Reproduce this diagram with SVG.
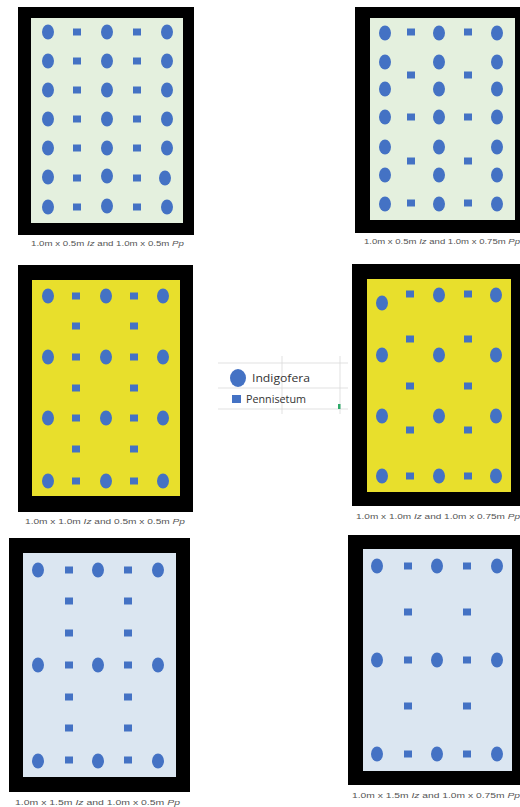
<svg xmlns="http://www.w3.org/2000/svg" xmlns:xlink="http://www.w3.org/1999/xlink" width="520" height="807" viewBox="0 0 520 807">
<style>
.frame{fill:#000}
.g{fill:#e4f0de}
.y{fill:#e8df2c}
.b{fill:#dbe6f1}
.p{fill:#4472c4}
.cap{font-family:"Liberation Sans",Arial,sans-serif;font-size:7.5px;fill:#555}
.cap tspan.i{font-style:italic}
.leg{font-family:"Open Sans","Liberation Sans",sans-serif;font-size:11px;fill:#333}
.grid{stroke:#d9d9d9;stroke-width:0.8;fill:none}
</style>
<defs>
<ellipse id="ci" cx="0" cy="0" rx="6" ry="7.5" class="p"/>
<rect id="sq" x="-4" y="-3.5" width="8" height="7" class="p"/>
</defs>
<rect width="520" height="807" fill="#fff"/>

<g id="panel1">
<rect class="frame" x="18" y="7" width="176" height="228"/>
<rect class="g" x="31" y="18" width="152" height="205"/>
<g>
<use href="#ci" x="48" y="32"/><use href="#sq" x="77" y="32"/><use href="#ci" x="107" y="32"/><use href="#sq" x="137" y="32"/><use href="#ci" x="167" y="32"/>
<use href="#ci" x="48" y="61"/><use href="#sq" x="77" y="61"/><use href="#ci" x="107" y="61"/><use href="#sq" x="137" y="61"/><use href="#ci" x="167" y="61"/>
<use href="#ci" x="48" y="90"/><use href="#sq" x="77" y="90"/><use href="#ci" x="107" y="90"/><use href="#sq" x="137" y="90"/><use href="#ci" x="167" y="90"/>
<use href="#ci" x="48" y="119"/><use href="#sq" x="77" y="119"/><use href="#ci" x="107" y="119"/><use href="#sq" x="137" y="119"/><use href="#ci" x="167" y="119"/>
<use href="#ci" x="48" y="148"/><use href="#sq" x="77" y="148"/><use href="#ci" x="107" y="148"/><use href="#sq" x="137" y="148"/><use href="#ci" x="167" y="148"/>
<use href="#ci" x="48" y="177"/><use href="#sq" x="77" y="178"/><use href="#ci" x="107" y="176"/><use href="#sq" x="137" y="178"/><use href="#ci" x="165" y="178"/>
<use href="#ci" x="48" y="207"/><use href="#sq" x="77" y="207"/><use href="#ci" x="107" y="206"/><use href="#sq" x="137" y="207"/><use href="#ci" x="167" y="207"/>
</g>
<text class="cap" x="31" y="246" textLength="153" lengthAdjust="spacingAndGlyphs">1.0m x 0.5m <tspan class="i">Iz</tspan> and 1.0m x 0.5m <tspan class="i">Pp</tspan></text>
</g>

<g id="panel2">
<rect class="frame" x="355" y="7" width="165" height="226"/>
<rect class="g" x="370" y="18" width="145" height="202"/>
<g>
<use href="#ci" x="385" y="33"/><use href="#sq" x="411" y="32"/><use href="#ci" x="439" y="33"/><use href="#sq" x="468" y="32"/><use href="#ci" x="497" y="33"/>
<use href="#ci" x="385" y="62"/><use href="#ci" x="439" y="62"/><use href="#ci" x="497" y="62"/>
<use href="#sq" x="411" y="75"/><use href="#sq" x="468" y="75"/>
<use href="#ci" x="385" y="89"/><use href="#ci" x="439" y="89"/><use href="#ci" x="497" y="89"/>
<use href="#ci" x="385" y="117"/><use href="#sq" x="411" y="117"/><use href="#ci" x="439" y="117"/><use href="#sq" x="468" y="117"/><use href="#ci" x="497" y="117"/>
<use href="#ci" x="385" y="147"/><use href="#ci" x="439" y="147"/><use href="#ci" x="497" y="147"/>
<use href="#sq" x="411" y="161"/><use href="#sq" x="468" y="161"/>
<use href="#ci" x="385" y="175"/><use href="#ci" x="439" y="175"/><use href="#ci" x="497" y="175"/>
<use href="#ci" x="385" y="204"/><use href="#sq" x="411" y="203"/><use href="#ci" x="439" y="204"/><use href="#sq" x="468" y="203"/><use href="#ci" x="497" y="204"/>
</g>
<text class="cap" x="364" y="244" textLength="156" lengthAdjust="spacingAndGlyphs">1.0m x 0.5m <tspan class="i">Iz</tspan> and 1.0m x 0.75m <tspan class="i">Pp</tspan></text>
</g>

<g id="panel3">
<rect class="frame" x="18" y="265" width="175" height="247"/>
<rect class="y" x="32" y="280" width="148" height="216"/>
<g>
<use href="#ci" x="48" y="296"/><use href="#sq" x="76" y="296"/><use href="#ci" x="106" y="296"/><use href="#sq" x="134" y="296"/><use href="#ci" x="163" y="296"/>
<use href="#sq" x="76" y="326"/><use href="#sq" x="134" y="326"/>
<use href="#ci" x="48" y="357"/><use href="#sq" x="76" y="357"/><use href="#ci" x="106" y="357"/><use href="#sq" x="134" y="357"/><use href="#ci" x="163" y="357"/>
<use href="#sq" x="76" y="388"/><use href="#sq" x="134" y="388"/>
<use href="#ci" x="48" y="418"/><use href="#sq" x="76" y="418"/><use href="#ci" x="106" y="418"/><use href="#sq" x="134" y="418"/><use href="#ci" x="163" y="418"/>
<use href="#sq" x="76" y="449"/><use href="#sq" x="134" y="449"/>
<use href="#ci" x="48" y="481"/><use href="#sq" x="76" y="481"/><use href="#ci" x="106" y="481"/><use href="#sq" x="134" y="481"/><use href="#ci" x="163" y="481"/>
</g>
<text class="cap" x="25" y="524" textLength="160" lengthAdjust="spacingAndGlyphs">1.0m x 1.0m <tspan class="i">Iz</tspan> and 0.5m x 0.5m <tspan class="i">Pp</tspan></text>
</g>

<g id="legend">
<g class="grid">
<line x1="218" y1="363" x2="348" y2="363"/>
<line x1="218" y1="388" x2="348" y2="388"/>
<line x1="218" y1="409" x2="348" y2="409"/>
<line x1="282" y1="356" x2="282" y2="414"/>
<line x1="340" y1="356" x2="340" y2="414"/>
</g>
<ellipse class="p" cx="238" cy="378" rx="8" ry="9"/>
<text class="leg" x="252" y="382" textLength="58" lengthAdjust="spacingAndGlyphs">Indigofera</text>
<rect class="p" x="232" y="395" width="9" height="8"/>
<text class="leg" x="246" y="403" textLength="60" lengthAdjust="spacingAndGlyphs">Pennisetum</text>
<rect x="338" y="404" width="2.5" height="5" fill="#2eaa6a"/>
</g>

<g id="panel4">
<rect class="frame" x="352" y="264" width="168" height="242"/>
<rect class="y" x="367" y="279" width="144" height="213"/>
<g>
<use href="#sq" x="410" y="294"/><use href="#ci" x="439" y="295"/><use href="#sq" x="468" y="294"/><use href="#ci" x="496" y="295"/>
<use href="#ci" x="382" y="303"/>
<use href="#sq" x="410" y="339"/><use href="#sq" x="468" y="339"/>
<use href="#ci" x="382" y="355"/><use href="#ci" x="439" y="355"/><use href="#ci" x="496" y="355"/>
<use href="#sq" x="410" y="386"/><use href="#sq" x="468" y="386"/>
<use href="#ci" x="382" y="416"/><use href="#ci" x="439" y="416"/><use href="#ci" x="496" y="416"/>
<use href="#sq" x="410" y="430"/><use href="#sq" x="468" y="430"/>
<use href="#ci" x="382" y="476"/><use href="#sq" x="410" y="476"/><use href="#ci" x="439" y="476"/><use href="#sq" x="468" y="476"/><use href="#ci" x="496" y="476"/>
</g>
<text class="cap" x="356" y="519" textLength="164" lengthAdjust="spacingAndGlyphs">1.0m x 1.0m <tspan class="i">Iz</tspan> and 1.0m x 0.75m <tspan class="i">Pp</tspan></text>
</g>

<g id="panel5">
<rect class="frame" x="9" y="538" width="181" height="254"/>
<rect class="b" x="23" y="553" width="153" height="224"/>
<g>
<use href="#ci" x="38" y="570"/><use href="#sq" x="69" y="570"/><use href="#ci" x="98" y="570"/><use href="#sq" x="128" y="570"/><use href="#ci" x="158" y="570"/>
<use href="#sq" x="69" y="601"/><use href="#sq" x="128" y="601"/>
<use href="#sq" x="69" y="633"/><use href="#sq" x="128" y="633"/>
<use href="#ci" x="38" y="665"/><use href="#sq" x="69" y="665"/><use href="#ci" x="98" y="665"/><use href="#sq" x="128" y="665"/><use href="#ci" x="158" y="665"/>
<use href="#sq" x="69" y="697"/><use href="#sq" x="128" y="697"/>
<use href="#sq" x="69" y="728"/><use href="#sq" x="128" y="728"/>
<use href="#ci" x="38" y="761"/><use href="#sq" x="69" y="760"/><use href="#ci" x="98" y="761"/><use href="#sq" x="128" y="760"/><use href="#ci" x="158" y="761"/>
</g>
<text class="cap" x="15" y="805" textLength="165" lengthAdjust="spacingAndGlyphs">1.0m x 1.5m <tspan class="i">Iz</tspan> and 1.0m x 0.5m <tspan class="i">Pp</tspan></text>
</g>

<g id="panel6">
<rect class="frame" x="348" y="535" width="172" height="250"/>
<rect class="b" x="363" y="549" width="149" height="222"/>
<g>
<use href="#ci" x="377" y="566"/><use href="#sq" x="408" y="566"/><use href="#ci" x="437" y="566"/><use href="#sq" x="467" y="566"/><use href="#ci" x="497" y="566"/>
<use href="#sq" x="408" y="612"/><use href="#sq" x="467" y="612"/>
<use href="#ci" x="377" y="660"/><use href="#sq" x="408" y="660"/><use href="#ci" x="437" y="660"/><use href="#sq" x="467" y="660"/><use href="#ci" x="497" y="660"/>
<use href="#sq" x="408" y="706"/><use href="#sq" x="467" y="706"/>
<use href="#ci" x="377" y="754"/><use href="#sq" x="408" y="754"/><use href="#ci" x="437" y="754"/><use href="#sq" x="467" y="754"/><use href="#ci" x="497" y="754"/>
</g>
<text class="cap" x="352" y="798" textLength="168" lengthAdjust="spacingAndGlyphs">1.0m x 1.5m <tspan class="i">Iz</tspan> and 1.0m x 0.75m <tspan class="i">Pp</tspan></text>
</g>
</svg>
